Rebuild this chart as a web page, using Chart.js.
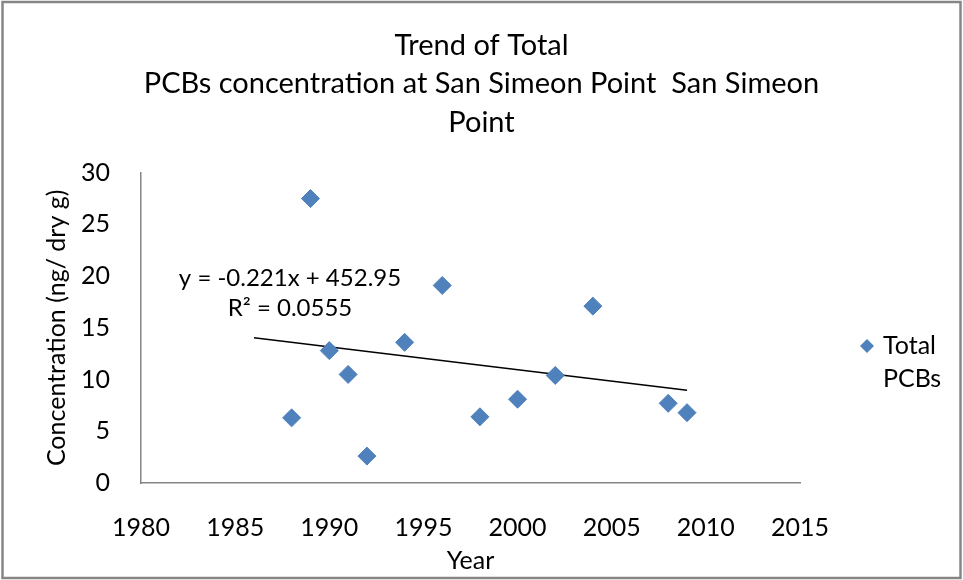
<!DOCTYPE html>
<html>
<head>
<meta charset="utf-8">
<script src="https://cdn.jsdelivr.net/npm/chart.js@4.4.1/dist/chart.umd.min.js"></script>
<style>
  html, body { margin: 0; padding: 0; background: #fff; }
  #wrap { width: 963px; height: 580px; position: relative; }
</style>
</head>
<body>
<div id="wrap"><canvas id="chart"></canvas></div>
<script>
// ================== DATA ==================
const years = [1988, 1989, 1990, 1991, 1992, 1994, 1996, 1998, 2000, 2002, 2004, 2008, 2009];
const totalPCBs = [6.3, 27.5, 12.8, 10.5, 2.6, 13.6, 19.1, 6.4, 8.1, 10.4, 17.1, 7.7, 6.8];

// trend line as printed on the chart
const trendSlope = -0.221;
const trendIntercept = 452.95;
const trendYears = [1986, 2009];
const trendText = ['y = -0.221x + 452.95', 'R\u00B2 = 0.0555'];

const xTicks = [1980, 1985, 1990, 1995, 2000, 2005, 2010, 2015];
const yTicks = [0, 5, 10, 15, 20, 25, 30];

const titleLines = ['Trend of Total', 'PCBs concentration at San Simeon Point  San Simeon', 'Point'];
const seriesName = 'Total PCBs';

const FONT = 'Lato, "Open Sans", sans-serif';
const BLUE = '#4F81BD';

// ================== HELPERS ==================
const points = years.map((y, i) => ({ x: y, y: totalPCBs[i] }));
const trendPoints = trendYears.map(x => ({ x, y: trendSlope * x + trendIntercept }));

// border + white background
const frame = {
  id: 'frame',
  beforeDraw(c){
    const ctx = c.ctx;
    ctx.save();
    ctx.fillStyle = '#fff';
    ctx.fillRect(0, 0, c.width, c.height);
    ctx.strokeStyle = '#868686';
    ctx.lineWidth = 2.5;
    ctx.strokeRect(2.5, 2, c.width - 5, c.height - 4);
    ctx.restore();
  }
};

// equation label + legend on the right
const extras = {
  id: 'extras',
  afterDraw(c){
    const ctx = c.ctx;
    const area = c.chartArea;
    ctx.save();
    ctx.fillStyle = '#000';
    ctx.font = '24px ' + FONT;
    ctx.textAlign = 'center';
    ctx.textBaseline = 'middle';
    ctx.fillText(trendText[0], area.left + 149, 278);
    ctx.fillText(trendText[1], area.left + 149, 308);

    // legend
    const lx = area.right + 67, ly = 346;
    ctx.fillStyle = BLUE;
    ctx.beginPath();
    ctx.moveTo(lx - 7, ly); ctx.lineTo(lx, ly - 7); ctx.lineTo(lx + 7, ly); ctx.lineTo(lx, ly + 7);
    ctx.closePath();
    ctx.fill();
    ctx.fillStyle = '#000';
    ctx.textAlign = 'left';
    ctx.font = '25px ' + FONT;
    const words = seriesName.split(' ');
    ctx.fillText(words[0], lx + 16, ly);
    ctx.fillText(words[1], lx + 16, ly + 33);
    ctx.restore();
  }
};

// ================== CHART ==================
const ctx = document.getElementById('chart').getContext('2d');
const chart = new Chart(ctx, {
  type: 'scatter',
  data: {
    datasets: [
      {
        label: seriesName,
        data: points,
        pointStyle: 'rectRot',
        pointRadius: 9,
        pointHoverRadius: 9,
        pointBackgroundColor: BLUE,
        pointBorderColor: BLUE,
        pointBorderWidth: 1,
        order: 1
      },
      {
        label: 'Linear (Total PCBs)',
        type: 'line',
        data: trendPoints,
        borderColor: '#000',
        borderWidth: 1.5,
        pointRadius: 0,
        fill: false,
        order: 2
      }
    ]
  },
  options: {
    responsive: true,
    maintainAspectRatio: false,
    animation: false,
    layout: { padding: 0 },
    plugins: {
      legend: { display: false },
      tooltip: { enabled: false },
      title: {
        display: true,
        text: titleLines,
        color: '#000',
        font: { family: FONT, size: 29, weight: 'normal', lineHeight: 1.33 },
        padding: { top: 26, bottom: 31 }
      }
    },
    scales: {
      x: {
        type: 'linear',
        min: xTicks[0],
        max: xTicks[xTicks.length - 1],
        afterBuildTicks: s => { s.ticks = xTicks.map(v => ({ value: v })); },
        afterFit: s => { s.height = 97; },
        grid: { display: false },
        border: { display: true, color: '#868686', width: 1.5 },
        ticks: { color: '#000', font: { family: FONT, size: 25 }, padding: 22, callback: v => String(v) },
        title: { display: true, text: 'Year', color: '#000', font: { family: FONT, size: 25 }, padding: { top: 0, bottom: 4 } }
      },
      y: {
        min: yTicks[0],
        max: yTicks[yTicks.length - 1],
        afterBuildTicks: s => { s.ticks = yTicks.map(v => ({ value: v })); },
        afterFit: s => { s.width = 141; },
        grid: { display: false },
        border: { display: true, color: '#868686', width: 1.5 },
        ticks: { color: '#000', font: { family: FONT, size: 25 }, padding: 23 },
        title: { display: true, text: 'Concentration (ng/ dry g)', color: '#000', font: { family: FONT, size: 25 }, padding: { top: 42, bottom: 0 } }
      },
      // empty right-hand box that keeps room for the legend
      legendRoom: {
        axis: 'y',
        position: 'right',
        afterFit: s => { s.width = 163; },
        grid: { display: false },
        border: { display: false },
        ticks: { display: false }
      }
    }
  },
  plugins: [frame, extras]
});
</script>
</body>
</html>
